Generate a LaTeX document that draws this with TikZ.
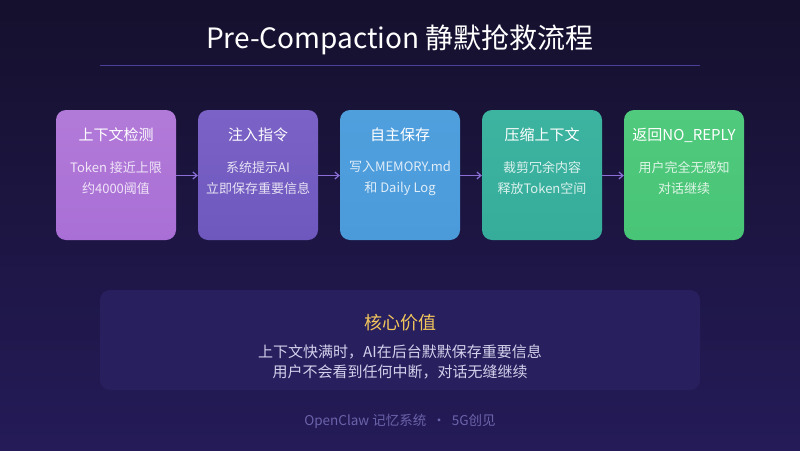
\documentclass[tikz,border=0pt]{standalone}
\usepackage{fontspec}
\setmainfont{Noto Sans CJK SC}
\usetikzlibrary{arrows.meta}
\definecolor{bgtop}{HTML}{15102D}
\definecolor{bgbot}{HTML}{241B58}
\definecolor{rulec}{HTML}{4A3F99}
\definecolor{arrc}{HTML}{8B6FD6}
\definecolor{cA}{HTML}{B27AD8}
\definecolor{cAb}{HTML}{A96FD6}
\definecolor{cB}{HTML}{7B62C6}
\definecolor{cBb}{HTML}{6E58BE}
\definecolor{cC}{HTML}{509FDD}
\definecolor{cCb}{HTML}{4B9ADA}
\definecolor{cD}{HTML}{3DB4A0}
\definecolor{cDb}{HTML}{36AD9B}
\definecolor{cE}{HTML}{50CA7C}
\definecolor{cEb}{HTML}{49C577}
\definecolor{panel}{HTML}{28205E}
\definecolor{gold}{HTML}{F2C55C}
\definecolor{soft}{HTML}{D4D0EC}
\definecolor{foot}{HTML}{6B63AA}
\tikzset{
  stepbox/.style={rounded corners=10pt, minimum width=120pt, minimum height=130pt, inner sep=0pt},
  boxtitle/.style={text=white, font=\fontsize{15}{17}\selectfont},
  boxbody/.style={text=white, text opacity=0.82, font=\fontsize{13}{21}\selectfont, align=center},
  flow/.style={arrc, line width=1.2pt, -{Straight Barb[length=4pt,width=7pt]}}
}
\begin{document}
\begin{tikzpicture}[x=1pt,y=-1pt]
\useasboundingbox (0,0) rectangle (800,450);
\shade[top color=bgtop, bottom color=bgbot] (0,0) rectangle (800,450);
% title
\node[text=white, font=\fontsize{28}{32}\selectfont] (title) at (400,40) {Pre-Compaction 静默抢救流程};
\coordinate (rl) at (100,65);
\coordinate (rr) at (700,65);
\draw[rulec, line width=1pt] (rl) -- (rr);
% boxes
\foreach \n/\x/\ct/\cb in {a/116/cA/cAb, b/258/cB/cBb, c/400/cC/cCb, d/542/cD/cDb, e/684/cE/cEb}{
  \node[stepbox, top color=\ct, bottom color=\cb] (\n) at (\x,175) {};
}
\node[boxtitle] (ta) at (116,135) {上下文检测};
\node[boxbody] (ba) at (116,178) {Token 接近上限\\约4000阈值};
\node[boxtitle] (tb) at (258,135) {注入指令};
\node[boxbody] (bb) at (258,178) {系统提示AI\\立即保存重要信息};
\node[boxtitle] (tc) at (400,135) {自主保存};
\node[boxbody] (bc) at (400,178) {写入MEMORY.md\\和 Daily Log};
\node[boxtitle] (td) at (542,135) {压缩上下文};
\node[boxbody] (bd) at (542,178) {裁剪冗余内容\\释放Token空间};
\node[boxtitle] (te) at (684,135) {返回NO\_REPLY};
\node[boxbody] (be) at (684,178) {用户完全无感知\\对话继续};
% arrows
\draw[flow] ([yshift=-0.5pt]a.east) -- ([yshift=-0.5pt]b.west);
\draw[flow] ([yshift=-0.5pt]b.east) -- ([yshift=-0.5pt]c.west);
\draw[flow] ([yshift=-0.5pt]c.east) -- ([yshift=-0.5pt]d.west);
\draw[flow] ([yshift=-0.5pt]d.east) -- ([yshift=-0.5pt]e.west);
% panel
\node[fill=panel, rounded corners=10pt, minimum width=600pt, minimum height=100pt, inner sep=0pt] (panel) at (400,340) {};
\node[text=gold, font=\fontsize{18}{21}\selectfont] (pt) at (400,323) {核心价值};
\node[text=soft, font=\fontsize{15}{20}\selectfont, align=center] (pb) at (400,362) {上下文快满时，AI在后台默默保存重要信息\\用户不会看到任何中断，对话无缝继续};
% footer
\node[text=foot, font=\fontsize{13.5}{16}\selectfont] (ft) at (400,421) {OpenClaw 记忆系统 \ · \ 5G创见};
\end{tikzpicture}
\end{document}
